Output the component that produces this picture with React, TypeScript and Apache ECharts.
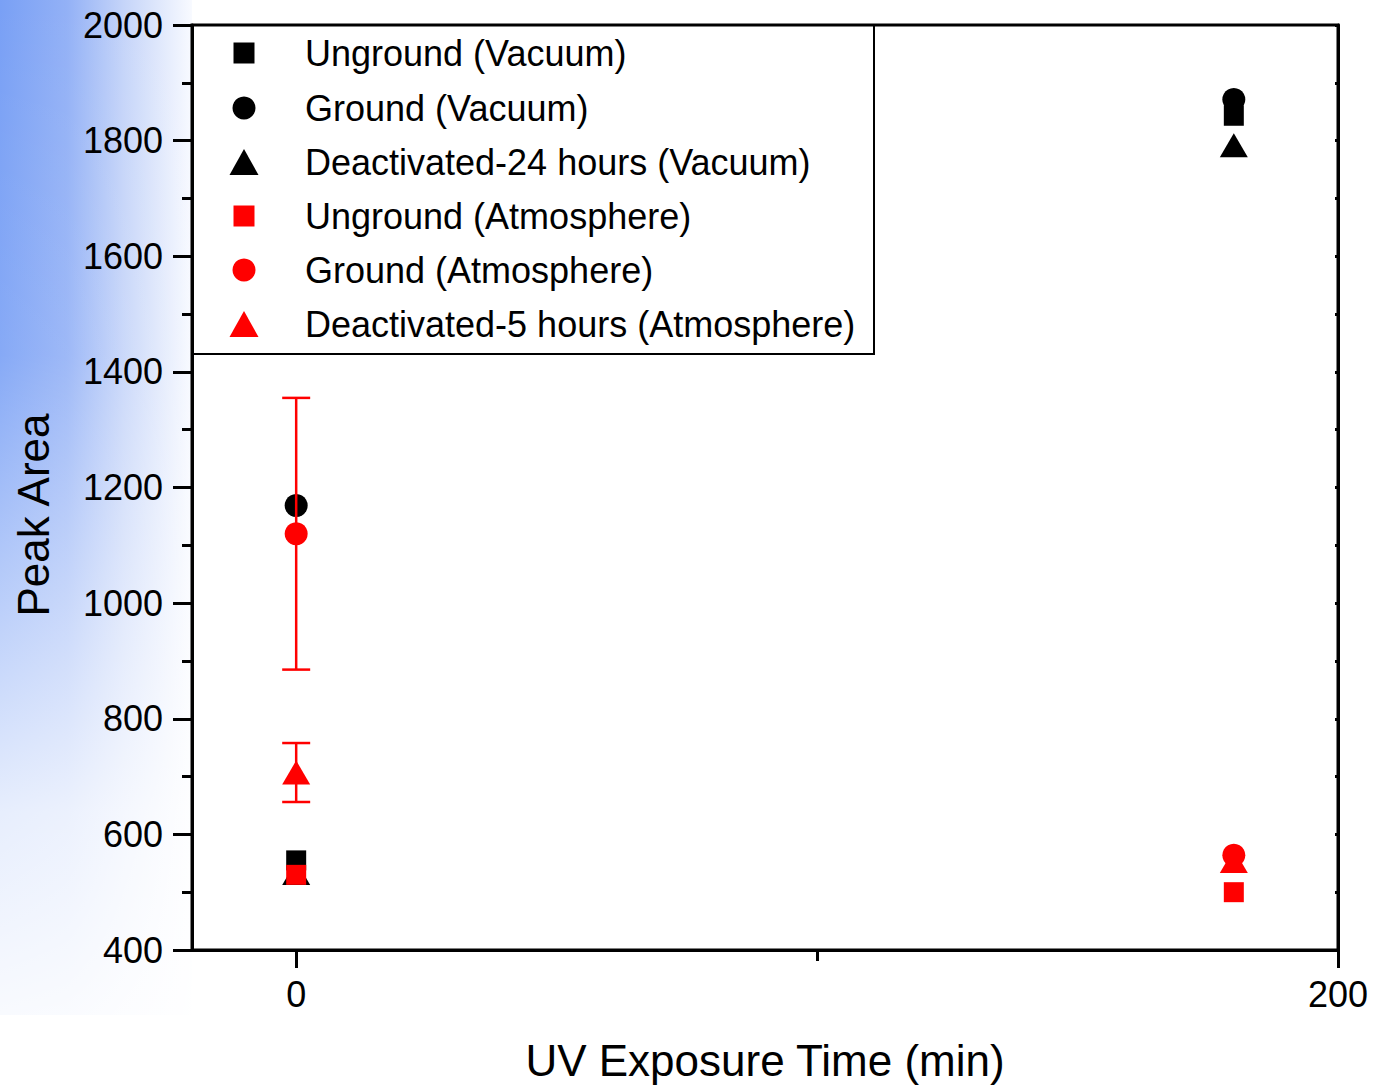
import React, { useEffect, useRef } from "react";
import * as echarts from "echarts";

// UV exposure times (min) at which peak areas were measured
const exposureTimes = [0, 180];

// Peak area values per sample at each exposure time
const ungroundVacuum = [555, 1843];
const groundVacuum = [1169, 1871];
const deactivated24Vacuum = [533, 1792];
const ungroundAtmosphere = [530, 500];
const groundAtmosphere = [1120, 564];
const deactivated5Atmosphere = [707, 554];

// Standard deviations (0 = no bar drawn)
const groundAtmosphereErr = [235, 0];
const deactivated5AtmosphereErr = [51, 0];

const seriesNames = [
  "Unground (Vacuum)",
  "Ground (Vacuum)",
  "Deactivated-24 hours (Vacuum)",
  "Unground (Atmosphere)",
  "Ground (Atmosphere)",
  "Deactivated-5 hours (Atmosphere)",
];

const xTickLabels = [0, 200];
const xMinorTicks = [100];

const FONT = "'Liberation Sans', Arial, Helvetica, sans-serif";
const BLACK = "#000000";
const RED = "#ff0000";

const seriesDefs = [
  { name: seriesNames[0], values: ungroundVacuum, color: BLACK, symbol: "rect", size: [20, 20], legendSize: [21, 21] },
  { name: seriesNames[1], values: groundVacuum, color: BLACK, symbol: "circle", size: [23, 23], legendSize: [23, 23] },
  { name: seriesNames[2], values: deactivated24Vacuum, color: BLACK, symbol: "triangle", size: [28, 24], legendSize: [29, 26] },
  { name: seriesNames[3], values: ungroundAtmosphere, color: RED, symbol: "rect", size: [20, 20], legendSize: [21, 21] },
  { name: seriesNames[4], values: groundAtmosphere, color: RED, symbol: "circle", size: [23, 23], legendSize: [23, 23] },
  { name: seriesNames[5], values: deactivated5Atmosphere, color: RED, symbol: "triangle", size: [28, 24], legendSize: [29, 26] },
];

const errorSets = [
  { values: groundAtmosphere, errs: groundAtmosphereErr },
  { values: deactivated5Atmosphere, errs: deactivated5AtmosphereErr },
];

const legendRowCenters = [53, 108, 162, 216, 270, 324];
const legendIconX = 244;
const legendTextX = 305;

export default function App() {
  const ref = useRef<HTMLDivElement>(null);

  useEffect(() => {
    if (!ref.current) return;
    const chart = echarts.init(ref.current, null, { renderer: "svg" });

    const errorData: number[][] = [];
    errorSets.forEach((set) => {
      set.errs.forEach((e, i) => {
        if (e > 0) {
          errorData.push([exposureTimes[i], set.values[i] - e, set.values[i] + e]);
        }
      });
    });

    const scatterSeries = seriesDefs.map((s) => ({
      name: s.name,
      type: "scatter",
      xAxisIndex: 0,
      yAxisIndex: 0,
      symbol: s.symbol,
      symbolSize: s.size,
      itemStyle: { color: s.color, opacity: 1 },
      emphasis: { disabled: true },
      data: exposureTimes.map((t, i) => [t, s.values[i]]),
    }));

    const legends = seriesDefs.map((s, i) => {
      const w = s.legendSize[0];
      const h = s.legendSize[1];
      return {
        show: true,
        data: [{ name: s.name, icon: s.symbol }],
        left: legendIconX - w / 2,
        top: legendRowCenters[i] - 18,
        itemWidth: w,
        itemHeight: h,
        padding: 0,
        selectedMode: false,
        orient: "horizontal",
        textStyle: {
          fontFamily: FONT,
          fontSize: 36,
          lineHeight: 36,
          color: BLACK,
          padding: [0, 0, 0, legendTextX - (legendIconX + w / 2 + 5)],
        },
      };
    });

    const option = {
      animation: false,
      backgroundColor: "#ffffff",
      textStyle: { fontFamily: FONT },
      graphic: [
        {
          type: "rect",
          z: -10,
          silent: true,
          shape: { x: 0, y: 0, width: 192, height: 1015 },
          style: {
            fill: new echarts.graphic.LinearGradient(0, 0, 1, 0, [
              { offset: 0, color: "#79a0f5" },
              { offset: 0.35, color: "#93b1f6" },
              { offset: 0.65, color: "#c6d5f9" },
              { offset: 1, color: "#f8faff" },
            ]),
          },
        },
        {
          type: "rect",
          z: -9,
          silent: true,
          shape: { x: 0, y: 0, width: 192, height: 1015 },
          style: {
            fill: new echarts.graphic.LinearGradient(0, 0, 0, 1, [
              { offset: 0, color: "rgba(255,255,255,0)" },
              { offset: 0.35, color: "rgba(255,255,255,0.1)" },
              { offset: 0.6, color: "rgba(255,255,255,0.5)" },
              { offset: 0.8, color: "rgba(255,255,255,0.82)" },
              { offset: 1, color: "rgba(255,255,255,0.95)" },
            ]),
          },
        },
        {
          type: "line",
          z: -8,
          silent: true,
          shape: { x1: 0, y1: 1015, x2: 200, y2: 1015 },
          style: {
            stroke: new echarts.graphic.LinearGradient(0, 0, 1, 0, [
              { offset: 0, color: "#a9c6f7" },
              { offset: 1, color: "rgba(200,220,250,0.3)" },
            ]),
            lineWidth: 2,
          },
        },
        {
          type: "rect",
          z: 50,
          silent: true,
          shape: { x: 192, y: 25, width: 682, height: 329 },
          style: { fill: "rgba(0,0,0,0)", stroke: BLACK, lineWidth: 2 },
        },
      ],
      legend: legends,
      grid: {
        left: 192,
        top: 25,
        right: 35,
        bottom: 137,
        show: true,
        borderColor: BLACK,
        borderWidth: 3,
        backgroundColor: "rgba(255,255,255,0)",
      },
      xAxis: [
        {
          type: "value",
          min: -20,
          max: 200,
          position: "bottom",
          name: "UV Exposure Time (min)",
          nameLocation: "middle",
          nameGap: 88,
          nameTextStyle: { fontFamily: FONT, fontSize: 44, color: BLACK },
          axisLine: { show: true, onZero: false, lineStyle: { color: BLACK, width: 3 } },
          axisTick: {
            show: true,
            customValues: xTickLabels,
            length: 18,
            lineStyle: { color: BLACK, width: 3 },
          },
          axisLabel: {
            show: true,
            customValues: xTickLabels,
            margin: 26,
            fontFamily: FONT,
            fontSize: 36,
            color: BLACK,
            formatter: (v: number) => String(v),
          },
          splitLine: { show: false },
        },
        {
          type: "value",
          min: -20,
          max: 200,
          position: "bottom",
          axisLine: { show: false, onZero: false },
          axisTick: {
            show: true,
            customValues: xMinorTicks,
            length: 11,
            lineStyle: { color: BLACK, width: 3 },
          },
          axisLabel: { show: false },
          splitLine: { show: false },
        },
      ],
      yAxis: [
        {
          type: "value",
          min: 400,
          max: 2000,
          interval: 200,
          position: "left",
          name: "Peak Area",
          nameLocation: "middle",
          nameGap: 137,
          nameTextStyle: {
            fontFamily: FONT,
            fontSize: 44,
            color: BLACK,
            padding: [0, 55, 0, 0],
          },
          axisLine: { show: true, onZero: false, lineStyle: { color: BLACK, width: 3 } },
          axisTick: { show: true, length: 19, lineStyle: { color: BLACK, width: 3 } },
          minorTick: { show: true, splitNumber: 2, length: 10, lineStyle: { color: BLACK, width: 3 } },
          axisLabel: {
            show: true,
            margin: 29,
            fontFamily: FONT,
            fontSize: 36,
            color: BLACK,
            formatter: (v: number) => String(v),
          },
          splitLine: { show: false },
          minorSplitLine: { show: false },
        },
        {
          type: "value",
          min: 400,
          max: 2000,
          interval: 100,
          position: "right",
          axisLine: { show: true, onZero: false, lineStyle: { color: BLACK, width: 3 } },
          axisTick: { show: true, inside: true, length: 3, lineStyle: { color: BLACK, width: 3 } },
          axisLabel: { show: false },
          splitLine: { show: false },
        },
      ],
      series: [
        ...scatterSeries,
        {
          name: "error",
          type: "custom",
          xAxisIndex: 0,
          yAxisIndex: 0,
          z: 5,
          silent: true,
          data: errorData,
          renderItem: (params: any, api: any) => {
            const x = api.value(0);
            const lo = api.value(1);
            const hi = api.value(2);
            const top = api.coord([x, hi]);
            const bot = api.coord([x, lo]);
            const hw = 14;
            const style = { stroke: RED, lineWidth: 2.5 };
            return {
              type: "group",
              children: [
                { type: "line", shape: { x1: top[0], y1: top[1], x2: bot[0], y2: bot[1] }, style },
                { type: "line", shape: { x1: top[0] - hw, y1: top[1], x2: top[0] + hw, y2: top[1] }, style },
                { type: "line", shape: { x1: bot[0] - hw, y1: bot[1], x2: bot[0] + hw, y2: bot[1] }, style },
              ],
            };
          },
        },
      ],
    };

    chart.setOption(option as any);
    return () => {
      chart.dispose();
    };
  }, []);

  return (
    <div
      ref={ref}
      style={{ position: "absolute", left: 0, top: 0, width: 1373, height: 1087 }}
    />
  );
}
